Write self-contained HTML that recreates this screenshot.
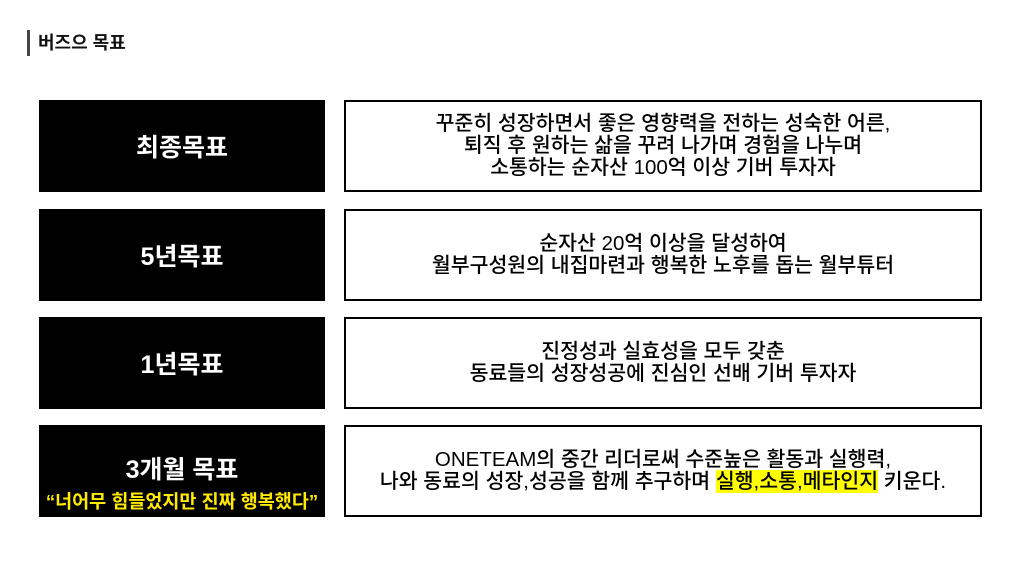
<!DOCTYPE html>
<html><head><meta charset="utf-8"><style>
body{margin:0;width:1009px;height:562px;background:#fff;position:relative;overflow:hidden;font-family:"Liberation Sans","Noto Sans CJK KR",sans-serif;}
.bar{position:absolute;left:27px;top:30px;width:3px;height:26px;background:#444;}
.title{position:absolute;left:38px;top:31px;font-size:18px;font-weight:bold;line-height:24px;color:#111;}
.l{position:absolute;left:39px;width:286px;height:92px;background:#000;color:#fff;display:flex;flex-direction:column;align-items:center;justify-content:center;font-size:25px;font-weight:bold;}
.r{position:absolute;left:344px;width:634px;height:88px;border:2px solid #000;display:flex;align-items:center;justify-content:center;text-align:center;font-size:20.5px;line-height:22px;color:#000;font-weight:500;}
.y{color:#ffea00;font-size:18.5px;margin-top:5px;line-height:22px}
.hl{background:#ffff00;}
</style></head><body>
<div class="bar"></div><div class="title">버즈으 목표</div>
<div class="l" style="top:100px">최종목표</div>
<div class="r" style="top:100px">꾸준히 성장하면서 좋은 영향력을 전하는 성숙한 어른,<br>퇴직 후 원하는 삶을 꾸려 나가며 경험을 나누며<br>소통하는 순자산 100억 이상 기버 투자자</div>
<div class="l" style="top:209px">5년목표</div>
<div class="r" style="top:209px">순자산 20억 이상을 달성하여<br>월부구성원의 내집마련과 행복한 노후를 돕는 월부튜터</div>
<div class="l" style="top:317px">1년목표</div>
<div class="r" style="top:317px">진정성과 실효성을 모두 갖춘<br>동료들의 성장성공에 진심인 선배 기버 투자자</div>
<div class="l" style="top:425px"><div style="margin-top:21px">3개월 목표</div><div class="y">“너어무 힘들었지만 진짜 행복했다”</div></div>
<div class="r" style="top:425px"><div>ONETEAM의 중간 리더로써 수준높은 활동과 실행력,<br>나와 동료의 성장,성공을 함께 추구하며 <span class="hl">실행,소통,메타인지</span> 키운다.</div></div>
</body></html>
